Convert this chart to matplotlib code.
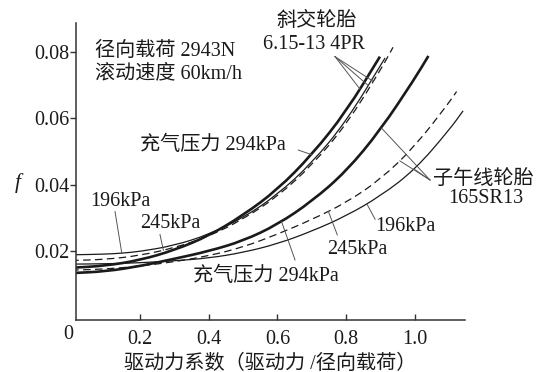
import numpy as np
import matplotlib
matplotlib.use("Agg")
import matplotlib.pyplot as plt
from matplotlib.path import Path
from matplotlib.patches import PathPatch

plt.rcParams['font.family'] = ['Liberation Serif', 'Noto Sans CJK SC', 'DejaVu Sans']
plt.rcParams['axes.unicode_minus'] = False

# Bias-ply tyre 6.15-13 4PR (driving force coefficient vs rolling resistance coefficient f)
bias_196_x = [0.0, 0.1, 0.147, 0.2, 0.3, 0.4, 0.5, 0.6, 0.7, 0.8, 0.913]
bias_196_f = [0.0189, 0.0191, 0.0194, 0.0199, 0.0217, 0.0250, 0.0300, 0.0370, 0.0465, 0.0590, 0.0781]

bias_245_x = [0.0, 0.1, 0.2, 0.3, 0.4, 0.5, 0.6, 0.7, 0.8, 0.9, 0.936]
bias_245_f = [0.0172, 0.0175, 0.0187, 0.0210, 0.0244, 0.0296, 0.0364, 0.0458, 0.0580, 0.0745, 0.0813]

bias_294_x = [0.0, 0.1, 0.2, 0.3, 0.4, 0.5, 0.6, 0.7, 0.8, 0.898]
bias_294_f = [0.0150, 0.0156, 0.0173, 0.0203, 0.0246, 0.0308, 0.0385, 0.0490, 0.0620, 0.0785]

# Radial tyre 165SR13
radial_196_x = [0.0, 0.1, 0.2, 0.3, 0.4, 0.5, 0.6, 0.7, 0.8, 0.9, 1.0, 1.1, 1.14]
radial_196_f = [0.0161, 0.0162, 0.0165, 0.0171, 0.0179, 0.0196, 0.0222, 0.0260, 0.0306, 0.0366, 0.0445, 0.0565, 0.0622]

radial_245_x = [0.0, 0.1, 0.2, 0.3, 0.4, 0.5, 0.6, 0.7, 0.8, 0.9, 1.0, 1.1, 1.121]
radial_245_f = [0.0143, 0.0146, 0.0155, 0.0168, 0.0186, 0.0212, 0.0251, 0.0295, 0.0346, 0.0416, 0.0515, 0.0648, 0.0680]

radial_294_x = [0.0, 0.1, 0.2, 0.3, 0.4, 0.5, 0.6, 0.7, 0.8, 0.9, 1.0, 1.039]
radial_294_f = [0.0134, 0.0139, 0.0155, 0.0177, 0.0200, 0.0231, 0.0280, 0.0350, 0.0440, 0.0565, 0.0720, 0.0787]

x_ticks = [0.2, 0.4, 0.6, 0.8, 1.0]
x_tick_labels = ["0.2", "0.4", "0.6", "0.8", "1.0"]
y_ticks = [0.02, 0.04, 0.06, 0.08]
y_tick_labels = ["0.02", "0.04", "0.06", "0.08"]

INK = "#1a1a1a"
LEAD = "#555555"
FS = 14.5

fig = plt.figure(figsize=(5.42, 3.72), dpi=100)
fig.patch.set_facecolor("white")
ax = fig.add_axes([76 / 542, 1 - 320 / 372, (465 - 76) / 542, (320 - 22.7) / 372])


def smooth_curve(xs, fs, **style):
    """Draw a curve through the points as joined quadratic Bezier segments."""
    pts = np.column_stack([xs, fs])
    mids = (pts[:-1] + pts[1:]) / 2
    verts = [pts[0], mids[0]]
    codes = [Path.MOVETO, Path.LINETO]
    for i in range(1, len(pts) - 1):
        verts += [pts[i], mids[i]]
        codes += [Path.CURVE3, Path.CURVE3]
    verts.append(pts[-1])
    codes.append(Path.LINETO)
    patch = PathPatch(Path(verts, codes), fill=False, capstyle="butt",
                      transform=ax.transData, **style)
    ax.add_patch(patch)


thin = dict(edgecolor=INK, lw=0.9)
dash = dict(edgecolor=INK, lw=0.9, ls=(0, (6, 3.5)))
thick = dict(edgecolor=INK, lw=1.9)

smooth_curve(bias_196_x, bias_196_f, **thin)
smooth_curve(bias_245_x, bias_245_f, **dash)
smooth_curve(bias_294_x, bias_294_f, **thick)
smooth_curve(radial_196_x, radial_196_f, **thin)
smooth_curve(radial_245_x, radial_245_f, **dash)
smooth_curve(radial_294_x, radial_294_f, **thick)

ax.set_xlim(0.0138, 1.1455)
ax.set_ylim(-0.0007, 0.0887)

for side in ("top", "right"):
    ax.spines[side].set_visible(False)
for side in ("left", "bottom"):
    ax.spines[side].set_color("#333333")
    ax.spines[side].set_linewidth(1.1)

ax.set_xticks(x_ticks)
ax.set_xticklabels(x_tick_labels)
ax.set_yticks(y_ticks)
ax.set_yticklabels(y_tick_labels)
ax.tick_params(axis="x", direction="in", length=4, width=1, colors="#333333",
               labelcolor=INK, labelsize=FS, pad=7)
ax.tick_params(axis="y", direction="out", length=4, width=1, colors="#333333",
               labelcolor=INK, labelsize=FS, pad=1)

# origin label shared by both axes
ax.text(-0.009, -0.0052, "0", ha="center", va="center", fontsize=FS, color=INK,
        clip_on=False)

ax.set_xlabel("驱动力系数（驱动力 /径向载荷）", fontsize=FS, color=INK, labelpad=4)
fig.text(18 / 542, 1 - 183 / 372, "f", fontsize=FS + 1, style="italic",
         color=INK, ha="center", va="center")


def on(xs, fs, x):
    return (x, float(np.interp(x, xs, fs)))


def lead(start, end):
    ax.plot([start[0], end[0]], [start[1], end[1]], color=LEAD, lw=0.7,
            clip_on=False)


def label(x, y, s, ha="left"):
    ax.text(x, y, s, fontsize=FS, color=INK, ha=ha, va="center", clip_on=False)


# test conditions
label(0.069, 0.0800, "径向载荷 2943N")
label(0.069, 0.0733, "滚动速度 60km/h")

# bias-ply group
label(0.714, 0.0890, "斜交轮胎", ha="center")
label(0.706, 0.0820, "6.15-13 4PR", ha="center")
lead((0.7673, 0.0785), on(bias_294_x, bias_294_f, 0.84))
lead((0.7673, 0.0785), on(bias_196_x, bias_196_f, 0.864))
lead((0.7673, 0.0785), on(bias_245_x, bias_245_f, 0.879))

label(0.200, 0.0519, "充气压力 294kPa")
lead((0.6605, 0.0504), on(bias_294_x, bias_294_f, 0.70))
label(0.0545, 0.0349, "196kPa")
lead((0.1273, 0.0319), on(bias_196_x, bias_196_f, 0.147))
label(0.200, 0.0284, "245kPa")
lead((0.2582, 0.0250), on(bias_245_x, bias_245_f, 0.268))

# radial group
label(1.053, 0.0414, "子午线轮胎")
label(1.096, 0.0359, "165SR13")
lead((1.0437, 0.0414), on(radial_294_x, radial_294_f, 0.903))
lead((1.0437, 0.0414), on(radial_245_x, radial_245_f, 0.956))
lead((1.0437, 0.0414), on(radial_196_x, radial_196_f, 1.0))

label(0.355, 0.0123, "充气压力 294kPa")
lead((0.651, 0.01735), on(radial_294_x, radial_294_f, 0.612))
label(0.743, 0.0206, "245kPa")
lead((0.774, 0.0249), on(radial_245_x, radial_245_f, 0.748))
label(0.884, 0.0274, "196kPa")
lead((0.884, 0.0296), on(radial_196_x, radial_196_f, 0.86))

fig.savefig("out.png", dpi=100, facecolor="white")
